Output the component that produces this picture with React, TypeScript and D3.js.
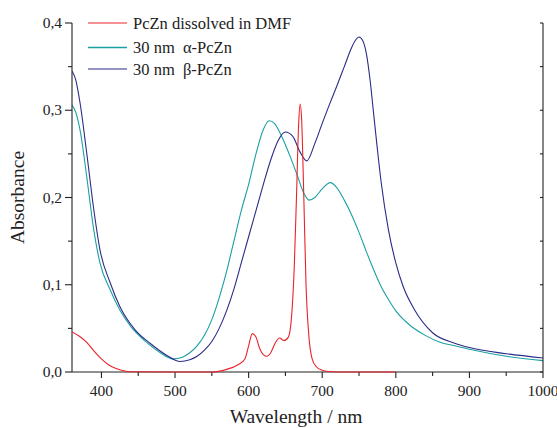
import React from "react";
import * as d3 from "d3";

const xTicks = [400, 500, 600, 700, 800, 900, 1000];
const xMinor = [450, 550, 650, 750, 850, 950];
const yTicks = [0, 0.1, 0.2, 0.3, 0.4];
const yMinor = [0.05, 0.15, 0.25, 0.35];

const redWl = [360, 370, 380, 390, 400, 410, 420, 430, 440, 500, 550, 570, 585, 595, 600, 605, 610, 615, 620, 625, 630, 636, 642, 648, 654, 658, 662, 665, 668, 670, 672, 675, 678, 682, 686, 692, 700, 710, 720, 800];
const redAbs = [0.046, 0.041, 0.034, 0.024, 0.015, 0.008, 0.004, 0.0015, 0.0003, 0, 0, 0.003, 0.008, 0.015, 0.03, 0.044, 0.04, 0.027, 0.02, 0.018, 0.022, 0.033, 0.039, 0.036, 0.04, 0.06, 0.12, 0.2, 0.285, 0.307, 0.29, 0.2, 0.1, 0.04, 0.016, 0.006, 0.002, 0.0005, 0, 0];

const alphaWl = [360, 365, 371, 380, 389, 398, 412, 425, 440, 460, 480, 497, 510, 520, 530, 540, 550, 560, 570, 580, 590, 600, 610, 620, 628, 635, 645, 655, 665, 675, 682, 690, 700, 711, 720, 730, 740, 750, 760, 770, 780, 790, 800, 820, 840, 860, 880, 900, 950, 1000];
const alphaAbs = [0.306, 0.298, 0.277, 0.224, 0.166, 0.125, 0.094, 0.071, 0.052, 0.035, 0.022, 0.015, 0.017, 0.022, 0.03, 0.042, 0.06, 0.085, 0.115, 0.15, 0.185, 0.215, 0.25, 0.278, 0.288, 0.285, 0.27, 0.25, 0.228, 0.205, 0.197, 0.2, 0.21, 0.217, 0.211, 0.197, 0.18, 0.16, 0.138, 0.117, 0.098, 0.083, 0.07, 0.053, 0.042, 0.034, 0.03, 0.026, 0.018, 0.013];

const betaWl = [360, 365, 371, 380, 389, 398, 412, 425, 446, 466, 489, 507, 520, 530, 540, 550, 560, 570, 580, 590, 600, 610, 620, 630, 640, 650, 660, 670, 679, 690, 700, 710, 720, 730, 740, 745, 750, 755, 760, 765, 770, 775, 780, 790, 800, 810, 825, 850, 880, 900, 950, 1000];
const betaAbs = [0.345, 0.335, 0.308, 0.251, 0.19, 0.14, 0.102, 0.075, 0.048, 0.033, 0.019, 0.012, 0.014, 0.018, 0.025, 0.035, 0.05, 0.07, 0.095, 0.125, 0.155, 0.185, 0.215, 0.243, 0.265, 0.275, 0.27, 0.252, 0.242, 0.262, 0.285, 0.307, 0.328, 0.35, 0.372, 0.38, 0.384, 0.38, 0.365, 0.335, 0.295, 0.255, 0.218, 0.163, 0.125, 0.098, 0.072, 0.045, 0.033, 0.028, 0.021, 0.016];

const seriesNames = ["PcZn dissolved in DMF", "30 nm  \u03b1-PcZn", "30 nm  \u03b2-PcZn"];
const seriesColors = ["#e8242b", "#1ba0a0", "#2b2b88"];

const W = 557;
const H = 428;
const FONT = "'Liberation Serif', monospace";

export default function App() {
  const x = d3.scaleLinear().domain([360, 1000]).range([72, 543]);
  const y = d3.scaleLinear().domain([0, 0.4]).range([372, 23]);

  const line = d3
    .line<[number, number]>()
    .x((d) => x(d[0]))
    .y((d) => y(d[1]))
    .curve(d3.curveMonotoneX);

  const data = [
    redWl.map((w, i) => [w, redAbs[i]] as [number, number]),
    alphaWl.map((w, i) => [w, alphaAbs[i]] as [number, number]),
    betaWl.map((w, i) => [w, betaAbs[i]] as [number, number]),
  ];

  const fmt = (v: number) => v.toFixed(1).replace(".", ",");
  const [x0, x1] = x.range();
  const [yb, yt] = y.range();
  const ts = { fontFamily: FONT } as React.CSSProperties;

  return (
    <svg width={W} height={H} style={{ position: "absolute", left: 0, top: 0, background: "#fff" }}>
      <rect x={0} y={0} width={W} height={H} fill="#fff" />
      <defs>
        <clipPath id="plot">
          <rect x={x0} y={yt - 5} width={x1 - x0} height={yb - yt + 8} />
        </clipPath>
      </defs>

      <g clipPath="url(#plot)">
        {data.slice(1).map((d, i) => (
          <path key={i} d={line(d) || ""} fill="none" stroke={seriesColors[i + 1]} strokeWidth={1.1} />
        ))}
      </g>

      <g stroke="#222" strokeWidth={1.1} fill="none">
        <line x1={x0} x2={x0} y1={yt} y2={yb} />
        <line x1={x1} x2={x1} y1={yt} y2={yb} />
        <line x1={x0} x2={x1} y1={yb} y2={yb} />
        {yTicks.map((t) => (
          <line key={"yl" + t} x1={x0 - 7} x2={x0} y1={y(t)} y2={y(t)} />
        ))}
        {yMinor.map((t) => (
          <line key={"ym" + t} x1={x0 - 4} x2={x0} y1={y(t)} y2={y(t)} />
        ))}
        {yTicks.concat(yMinor).map((t) => (
          <line key={"yr" + t} x1={x1 - 3} x2={x1} y1={y(t)} y2={y(t)} />
        ))}
        {xTicks.map((t) => (
          <line key={"xt" + t} x1={x(t)} x2={x(t)} y1={yb} y2={yb + 6} />
        ))}
        {xMinor.map((t) => (
          <line key={"xm" + t} x1={x(t)} x2={x(t)} y1={yb} y2={yb + 4} />
        ))}
      </g>

      <g clipPath="url(#plot)">
        <path d={line(data[0]) || ""} fill="none" stroke={seriesColors[0]} strokeWidth={1.1} />
      </g>

      <g fontSize={15.5} fill="#222">
        {yTicks.map((t) => (
          <text key={"yl" + t} x={x0 - 10} y={y(t) + 5} textAnchor="end" style={ts}>
            {fmt(t)}
          </text>
        ))}
        {xTicks.map((t) => (
          <text key={"xl" + t} x={x(t)} y={yb + 24} textAnchor="middle" style={ts}>
            {t}
          </text>
        ))}
      </g>

      <text x={296} y={423} fontSize={19.5} textAnchor="middle" fill="#222" style={ts}>
        Wavelength / nm
      </text>
      <text
        transform={`translate(24, ${(yt + yb) / 2}) rotate(-90)`}
        fontSize={19.5}
        textAnchor="middle"
        fill="#222"
        style={ts}
      >
        Absorbance
      </text>

      <g fontSize={16.5} fill="#222">
        {seriesNames.map((n, i) => {
          const ly = [23, 47.5, 69][i];
          return (
            <g key={n}>
              <line x1={88} x2={127} y1={ly} y2={ly} stroke={seriesColors[i]} strokeWidth={i === 1 ? 1.6 : 1.1} />
              <text x={133} y={ly + 5.5} style={{ ...ts, whiteSpace: "pre" }}>
                {n}
              </text>
            </g>
          );
        })}
      </g>
    </svg>
  );
}
